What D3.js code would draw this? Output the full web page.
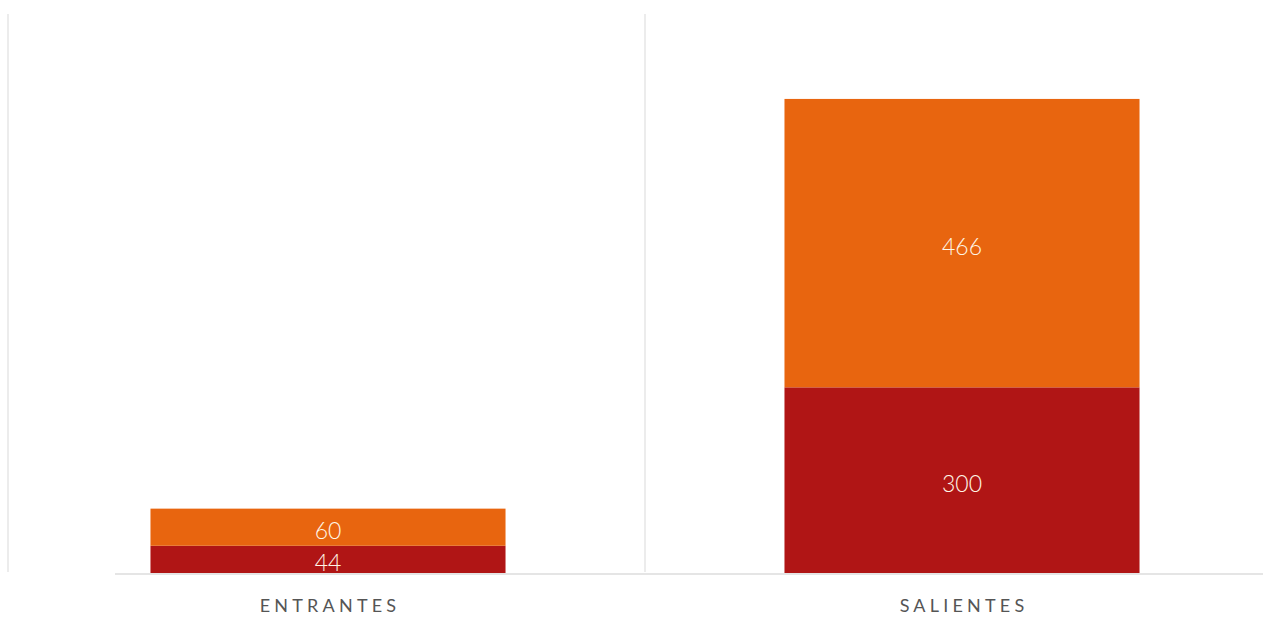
<!DOCTYPE html>
<html>
<head>
<meta charset="utf-8">
<script src="https://cdn.jsdelivr.net/npm/d3@7"></script>
<style>
  html, body { margin: 0; padding: 0; background: #fff; }
  svg { display: block; }
</style>
</head>
<body>
<svg id="chart" width="1263" height="618"></svg>
<script>
// Categories and stacked series (bottom segment first)
const categories = ["ENTRANTES", "SALIENTES"];
const seriesNames = ["base", "top"];
const baseValues = [44, 300];
const topValues = [60, 466];
const seriesColors = ["#b01515", "#e8650f"];

const rows = categories.map((c, i) => ({ category: c, base: baseValues[i], top: topValues[i] }));

const svg = d3.select("#chart");
const W = 1263, H = 618;

const x = d3.scaleBand()
  .domain(categories)
  .range([11, 1279])
  .paddingInner(0.44)
  .paddingOuter(0.22);

const y = d3.scaleLinear()
  .domain([0, 900])
  .range([573, 16]);

const stack = d3.stack().keys(seriesNames);
const layers = stack(rows);

// Category separators (vertical gridlines)
const step = x.step();
const separators = [
  x(categories[0]) - step * x.paddingOuter() - 3,
  (x(categories[0]) + x.bandwidth() + x(categories[1])) / 2
];
svg.append("g")
  .selectAll("line")
  .data(separators)
  .join("line")
  .attr("x1", d => d).attr("x2", d => d)
  .attr("y1", 14).attr("y2", 572)
  .attr("stroke", "#e6e6e6")
  .attr("stroke-width", 1.5);

// Baseline
svg.append("line")
  .attr("x1", 115).attr("x2", W)
  .attr("y1", y(0) + 1).attr("y2", y(0) + 1)
  .attr("stroke", "#dcdcdc")
  .attr("stroke-width", 1.5);

// Stacked bars
const layerG = svg.append("g")
  .selectAll("g")
  .data(layers)
  .join("g")
  .attr("fill", (d, i) => seriesColors[i]);

layerG.selectAll("rect")
  .data(d => d)
  .join("rect")
  .attr("x", d => x(d.data.category))
  .attr("width", x.bandwidth())
  .attr("y", d => y(d[1]))
  .attr("height", d => y(d[0]) - y(d[1]));

// Segment value labels
layerG.selectAll("text")
  .data(d => d.map(s => ({ s, key: d.key })))
  .join("text")
  .attr("x", d => x(d.s.data.category) + x.bandwidth() / 2)
  .attr("y", d => (y(d.s[0]) + y(d.s[1])) / 2)
  .attr("dy", "0.52em")
  .attr("text-anchor", "middle")
  .attr("fill", "#fff6e6")
  .attr("font-family", "Lato, 'Open Sans', sans-serif")
  .attr("font-weight", 300)
  .attr("font-size", 23)
  .text(d => d.s.data[d.key]);

// Category axis labels
const xAxis = d3.axisBottom(x).tickSize(0).tickPadding(0);
const axisG = svg.append("g")
  .attr("transform", `translate(0, ${y(0)})`)
  .call(xAxis);
axisG.select(".domain").remove();
axisG.selectAll("text")
  .attr("y", 39)
  .attr("dy", 0)
  .attr("fill", "#555")
  .attr("font-family", "Lato, 'Open Sans', sans-serif")
  .attr("font-weight", 400)
  .attr("font-size", 18)
  .attr("letter-spacing", "4.2px")
  .attr("dx", "2px");
</script>
</body>
</html>
